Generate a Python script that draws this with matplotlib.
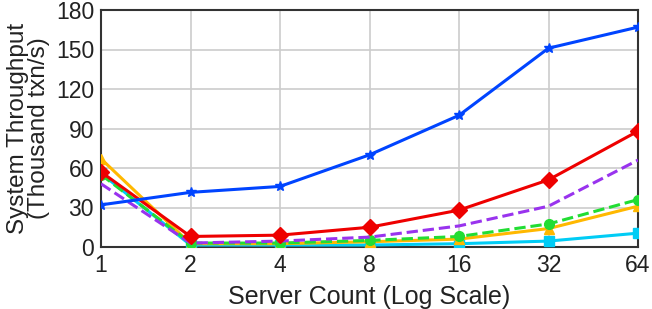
import matplotlib.pyplot as plt
import numpy as np

plt.rcParams['font.family'] = ['Liberation Sans', 'DejaVu Sans']

# data setting
servers = [1, 2, 4, 8, 16, 32, 64]
blue = [32, 41.5, 46, 70, 100, 151, 167]
red = [57, 8, 9, 15, 28, 51, 88]
purple = [48, 3, 4.5, 7.5, 16, 31, 66]
green = [55, 3, 3, 5, 8, 17.5, 36]
orange = [67, 2.5, 2.5, 4, 6, 14, 31]
cyan = [56, 1.5, 1.5, 1.5, 2.5, 4.5, 10.5]

fig = plt.figure(figsize=(6.52, 3.09), dpi=100)
ax = fig.add_axes([101/652, 1 - 247/309, 537/652, 237/309])

lw = 2.2
ax.plot(servers, cyan, color='#00ccf5', marker='s', markersize=7, lw=lw, zorder=3)
ax.plot(servers, orange, color='#ffb800', marker='^', markersize=7, lw=lw, zorder=3)
ax.plot(servers, green, color='#22dd33', marker='o', markersize=7, lw=lw, ls='--', zorder=3)
ax.plot(servers, purple, color='#9933ee', lw=lw, ls='--', zorder=3)
ax.plot(servers, red, color='#ee0000', marker='D', markersize=8, lw=lw, zorder=3)
ax.plot(servers, blue, color='#0044ff', marker='*', markersize=7, lw=lw, zorder=3)

ax.set_xscale('log', base=2)
ax.set_xlim(1, 64)
ax.set_ylim(0, 180)
ax.set_xticks(servers)
ax.set_xticklabels([str(s) for s in servers])
ax.minorticks_off()
ax.set_yticks(np.arange(0, 181, 30))
ax.grid(True, color='#cccccc', lw=1.2)
ax.tick_params(labelsize=16.5, length=0, pad=5, colors='#222222')
for sp in ax.spines.values():
    sp.set_color('#333333')
    sp.set_linewidth(1.5)

ax.set_xlabel('Server Count (Log Scale)', fontsize=18, labelpad=6, color='#222222')
ax.set_ylabel('System Throughput\n(Thousand txn/s)', fontsize=17.5, labelpad=4,
              linespacing=0.95, color='#222222')

plt.savefig('out.png')
